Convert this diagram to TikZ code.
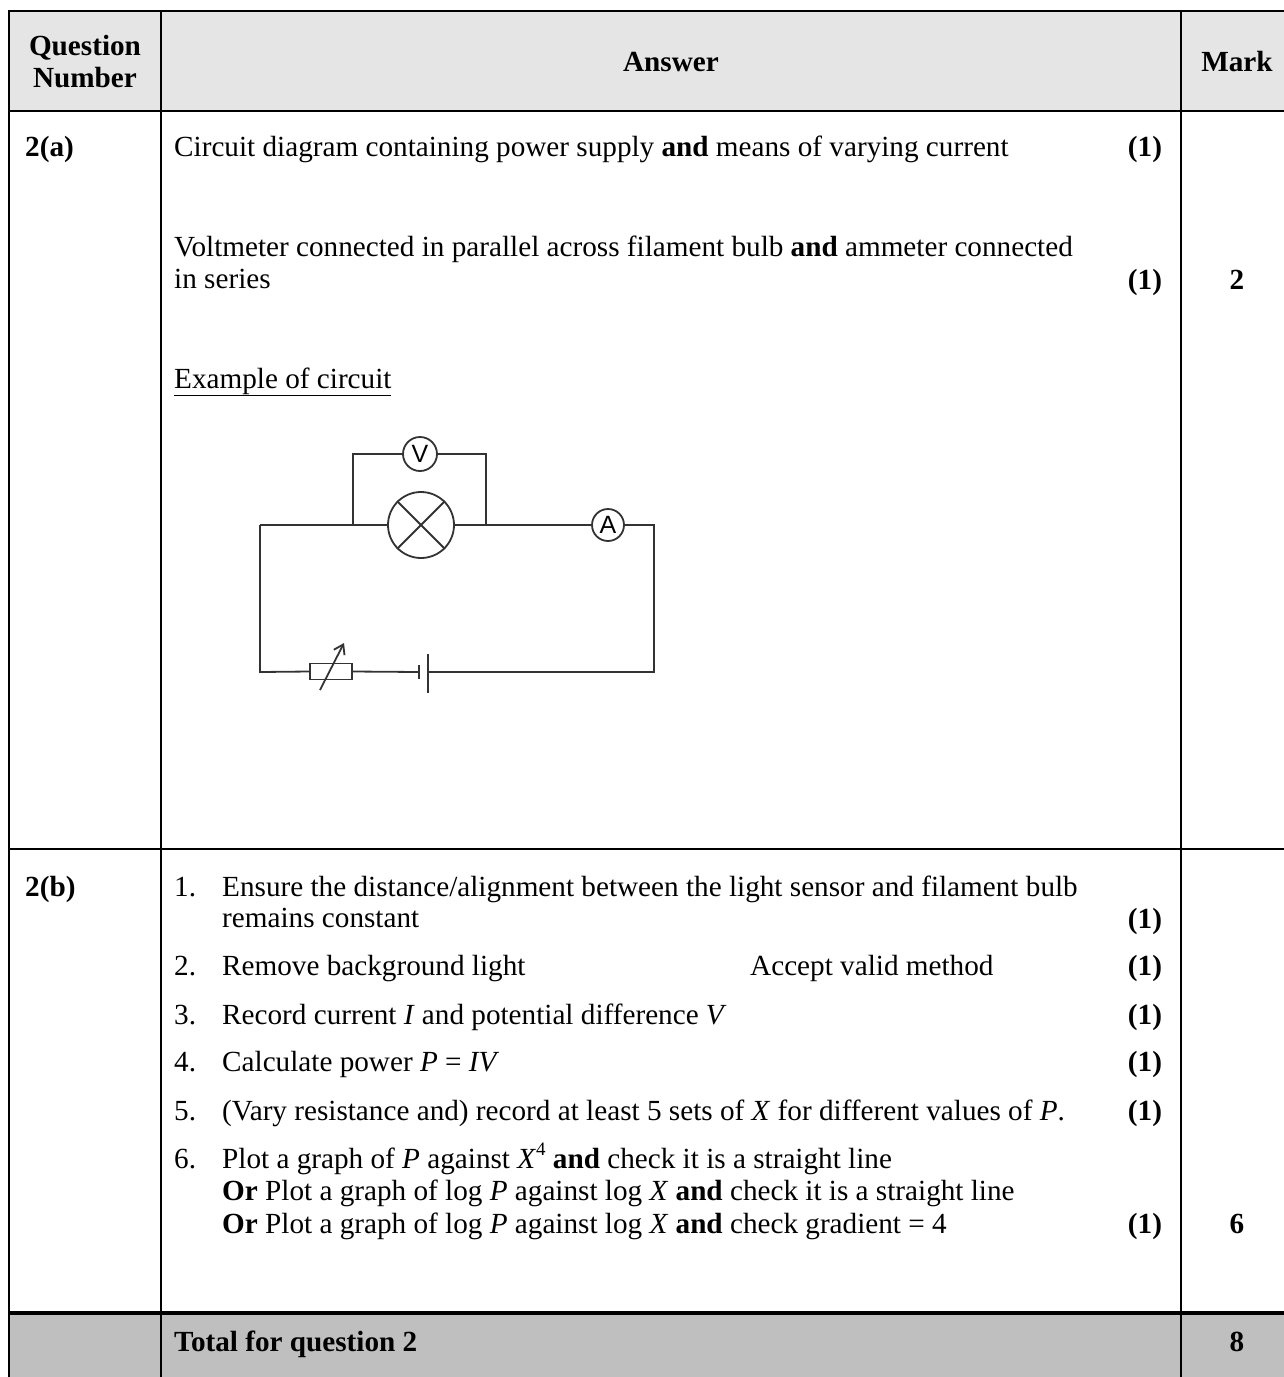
\documentclass[tikz,border=0pt]{standalone}
\usepackage{fontspec}
\setmainfont{Liberation Serif}
\setsansfont{Liberation Sans}
\usetikzlibrary{arrows.meta}
\begin{document}
\begin{tikzpicture}[x=1pt,y=-1pt,
  txt/.style={anchor=base west,inner sep=0pt,font=\fontsize{29.2}{32.3}\selectfont},
  ctxt/.style={anchor=base,inner sep=0pt,font=\fontsize{29.2}{32.3}\selectfont},
  grid/.style={line width=2.4pt,black},
  wire/.style={line width=1.8pt,black!80},
  meter/.style={circle,draw=black!80,line width=1.8pt,inner sep=0pt,font=\sffamily\fontsize{25}{25}\selectfont},
]
\useasboundingbox (0,0) rectangle (1284,1377);
% fills
\fill[gray!20] (9,11) rectangle (1290,111);
\fill[gray!50] (9,1313) rectangle (1290,1380);
% grid lines
\draw[grid] (1290,11) -- (9,11) -- (9,1380);
\draw[grid] (9,111) -- (1290,111);
\draw[grid] (9,849) -- (1290,849);
\draw[grid,line width=3.4pt] (9,1313) -- (1290,1313);
\draw[grid] (161,11) -- (161,1380);
\draw[grid] (1181,11) -- (1181,1380);

% header
\node[ctxt] (h1) at (85,55) {\textbf{Question}};
\node[ctxt] (h2) at (85,87) {\textbf{Number}};
\node[ctxt] (h3) at (671,71) {\textbf{Answer}};
\node[ctxt] (h4) at (1237,71) {\textbf{Mark}};

% 2(a)
\node[txt] (qa) at (25,156) {\textbf{2(a)}};
\node[txt] (a1) at (174,156) {Circuit diagram containing power supply \textbf{and} means of varying current};
\node[ctxt] (m1) at (1145,156) {\textbf{(1)}};
\node[txt] (a2) at (174,256) {Voltmeter connected in parallel across filament bulb \textbf{and} ammeter connected};
\node[txt] (a3) at (174,288) {in series};
\node[ctxt] (m2) at (1145,289) {\textbf{(1)}};
\node[ctxt] (t1) at (1237,289) {\textbf{2}};
\node[txt] (ex) at (174,388) {\underline{Example of circuit}};

% circuit
\node[meter,minimum size=34pt] (vm) at (420,454) {V};
\node[circle,draw=black!80,line width=1.8pt,minimum size=66pt,inner sep=0pt] (bulb) at (421,525) {};
\node[meter,minimum size=32pt] (am) at (608,525) {A};
\node[rectangle,draw=black!80,line width=1.8pt,minimum width=42pt,minimum height=16pt,inner sep=0pt] (rh) at (331,671.5) {};
\coordinate (c1) at (260,525);
\coordinate (c2) at (260,672);
\coordinate (c3) at (654,672);
\coordinate (c4) at (654,525);
\coordinate (jl) at (353,525);
\coordinate (jr) at (486,525);
\coordinate (tl) at (353,454);
\coordinate (tr) at (486,454);
\coordinate (sp) at (419,672);
\coordinate (lp) at (428,672);
\coordinate (spT) at (419,665);
\coordinate (spB) at (419,679);
\coordinate (lpT) at (428,654);
\coordinate (lpB) at (428,693);
\coordinate (arA) at (320,690);
\coordinate (arB) at (344,643);
\draw[wire] (bulb.north west) -- (bulb.south east);
\draw[wire] (bulb.south west) -- (bulb.north east);
\draw[wire] (c1) -- (jl) -- (bulb.west);
\draw[wire] (bulb.east) -- (jr) -- (am.west);
\draw[wire] (jl) -- (tl) -- (vm.west);
\draw[wire] (vm.east) -- (tr) -- (jr);
\draw[wire] (am.east) -- (c4) -- (c3) -- (lp);
\draw[wire] (c1) -- (c2) -- (rh.west);
\draw[wire] (rh.east) -- (sp);
\draw[wire] (spT) -- (spB);
\draw[wire] (lpT) -- (lpB);
\draw[wire,-{Straight Barb[length=9pt,width=12pt]}] (arA) -- (arB);

% 2(b)
\node[txt] (qb) at (25,896) {\textbf{2(b)}};
\node[txt] (n1) at (174,896) {1.};
\node[txt] (b1) at (222,896) {Ensure the distance/alignment between the light sensor and filament bulb};
\node[txt] (b1b) at (222,927) {remains constant};
\node[ctxt] (m3) at (1145,928) {\textbf{(1)}};
\node[txt] (n2) at (174,975) {2.};
\node[txt] (b2) at (222,975) {Remove background light};
\node[txt] (b2a) at (750,975) {Accept valid method};
\node[ctxt] (m4) at (1145,975) {\textbf{(1)}};
\node[txt] (n3) at (174,1024) {3.};
\node[txt] (b3) at (222,1024) {Record current \textit{I} and potential difference \textit{V}};
\node[ctxt] (m5) at (1145,1024) {\textbf{(1)}};
\node[txt] (n4) at (174,1071) {4.};
\node[txt] (b4) at (222,1071) {Calculate power \textit{P} = \textit{IV}};
\node[ctxt] (m6) at (1145,1071) {\textbf{(1)}};
\node[txt] (n5) at (174,1120) {5.};
\node[txt] (b5) at (222,1120) {(Vary resistance and) record at least 5 sets of \textit{X} for different values of \textit{P}.};
\node[ctxt] (m7) at (1145,1120) {\textbf{(1)}};
\node[txt] (n6) at (174,1168) {6.};
\node[txt] (b6) at (222,1168) {Plot a graph of \textit{P} against \textit{X}\raisebox{0.42em}{\fontsize{19}{19}\selectfont 4} \textbf{and} check it is a straight line};
\node[txt] (b6b) at (222,1200) {\textbf{Or} Plot a graph of log \textit{P} against log \textit{X} \textbf{and} check it is a straight line};
\node[txt] (b6c) at (222,1233) {\textbf{Or} Plot a graph of log \textit{P} against log \textit{X} \textbf{and} check gradient = 4};
\node[ctxt] (m8) at (1145,1233) {\textbf{(1)}};
\node[ctxt] (t2) at (1237,1233) {\textbf{6}};

% total
\node[txt] (tot) at (174,1351) {\textbf{Total for question 2}};
\node[ctxt] (t3) at (1237,1351) {\textbf{8}};
\end{tikzpicture}
\end{document}
